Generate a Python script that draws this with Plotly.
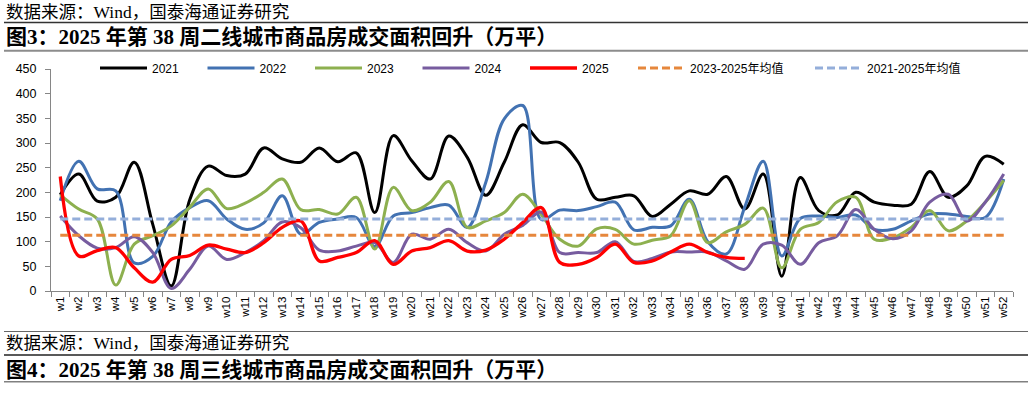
import plotly.graph_objects as go

weeks = [f"w{i}" for i in range(1, 53)]

y2021 = [195, 237, 182, 190, 261, 135, 10, 185, 253, 234, 237, 290, 268, 261, 290, 262, 280, 159, 315, 264,
         227, 314, 271, 194, 261, 337, 301, 301, 261, 186, 190, 193, 151, 176, 203, 196, 232, 166, 237, 30,
         230, 163, 154, 200, 180, 174, 176, 242, 190, 213, 273, 257]
y2022 = [183, 263, 207, 203, 57, 70, 140, 169, 183, 146, 125, 138, 193, 115, 139, 146, 149, 90, 152, 159,
         169, 174, 129, 220, 349, 376, 145, 164, 163, 171, 180, 124, 129, 132, 186, 100, 75, 170, 263, 71,
         147, 152, 149, 154, 125, 125, 142, 156, 156, 151, 149, 227]
y2023 = [195, 166, 146, 12, 95, 112, 132, 170, 207, 167, 178, 200, 227, 165, 165, 156, 190, 85, 210, 163,
         180, 222, 129, 142, 159, 196, 155, 105, 91, 126, 125, 95, 103, 112, 183, 98, 120, 135, 168, 47,
         125, 139, 181, 190, 105, 108, 129, 163, 122, 142, 180, 224]
y2024 = [152, 112, 87, 88, 110, 78, 5, 44, 91, 64, 78, 102, 140, 128, 83, 81, 91, 98, 58, 115,
         105, 125, 98, 81, 115, 133, 160, 78, 78, 78, 100, 60, 66, 79, 79, 79, 61, 44, 95, 93,
         54, 98, 112, 165, 125, 106, 122, 180, 196, 142, 180, 237]
y2025 = [232, 71, 82, 88, 47, 18, 64, 72, 93, 85, 78, 98, 129, 142, 61, 68, 78, 102, 54, 81,
         88, 102, 81, 83, 105, 139, 169, 58, 54, 68, 95, 58, 61, 79, 95, 78, 68, 66]
avg_2023_2025 = [113] * 52
avg_2021_2025 = [146] * 52

W, H = 1032, 397
L, R, T, B = 51, 19, 69, 106
PW, PH = W - L - R, H - T - B


def px(x):
    return (x - L) / PW


def py(y):
    return (H - B - y) / PH


fig = go.Figure()

series = [
    ("2021", y2021, "#000000", 3, "legend"),
    ("2022", y2022, "#4272B2", 3, "legend"),
    ("2023", y2023, "#8DB04F", 3, "legend"),
    ("2024", y2024, "#775C9F", 3, "legend"),
    ("2025", y2025, "#FF0000", 3.3, "legend"),
]
for name, vals, col, w, lg in series:
    fig.add_trace(go.Scatter(x=weeks[:len(vals)], y=vals, name=name, mode="lines",
                             line=dict(color=col, width=w, shape="spline", smoothing=1.0),
                             legend=lg))

fig.add_trace(go.Scatter(x=weeks, y=avg_2023_2025, name="2023-2025年均值", mode="lines",
                         line=dict(color="#E6873C", width=3, dash="8px,4px"), legend="legend2"))
fig.add_trace(go.Scatter(x=weeks, y=avg_2021_2025, name="2021-2025年均值", mode="lines",
                         line=dict(color="#94AEDA", width=3, dash="8px,4px"), legend="legend2"))

sans = "Liberation Sans, Arial, Noto Sans CJK SC"
serif = "Liberation Serif, Noto Sans CJK SC"

fig.update_layout(
    width=W, height=H,
    margin=dict(l=L, r=R, t=T, b=B, pad=0, autoexpand=False),
    paper_bgcolor="white", plot_bgcolor="white",
    font=dict(family=sans, size=12, color="#000000"),
    xaxis=dict(type="category", tickson="boundaries", ticks="outside", ticklen=5,
               tickcolor="#868686", showline=True, linecolor="#868686", linewidth=1,
               showgrid=False, zeroline=False, tickangle=-90, automargin=False,
               tickfont=dict(family=sans, size=11.5, color="#000000"),
               range=[-0.5, 51.5]),
    yaxis=dict(range=[0, 450], dtick=50, ticks="outside", ticklen=5, tickcolor="#868686",
               showline=True, linecolor="#868686", linewidth=1, showgrid=False, zeroline=False,
               automargin=False,
               tickfont=dict(family=sans, size=12.5, color="#000000"), ticklabelstandoff=6),
    legend=dict(orientation="h", x=px(95), xanchor="left", y=py(68), yanchor="middle",
                itemwidth=47, entrywidth=45.5, entrywidthmode="pixels", bgcolor="rgba(0,0,0,0)",
                font=dict(family=sans, size=12, color="#000000"), tracegroupgap=0),
    legend2=dict(orientation="h", x=px(633), xanchor="left", y=py(68), yanchor="middle",
                 itemwidth=47, entrywidth=115, entrywidthmode="pixels", bgcolor="rgba(0,0,0,0)",
                 font=dict(family=sans, size=12, color="#000000"), tracegroupgap=0),
    showlegend=True,
)

rules = [(22.5, "#333333", 1.5), (50.7, "#8c8c8c", 2), (331.5, "#666666", 1.2),
         (355, "#222222", 1.5), (381.7, "#808080", 1.5)]
for yy, col, lw in rules:
    fig.add_shape(type="line", xref="paper", yref="paper", x0=px(4), x1=px(1028), y0=py(yy), y1=py(yy),
                  line=dict(color=col, width=lw))

texts = [
    ("数据来源：Wind，国泰海通证券研究", 12, 17.5, False),
    ("图3：2025 年第 38 周二线城市商品房成交面积回升（万平）", 37, 21, True),
    ("数据来源：Wind，国泰海通证券研究", 343, 17.5, False),
    ("图4：2025 年第 38 周三线城市商品房成交面积回升（万平）", 369.5, 21, True),
]
for txt, yy, fs, bold in texts:
    fig.add_annotation(text=f"<b>{txt}</b>" if bold else txt, xref="paper", yref="paper",
                       x=px(4), y=py(yy), xanchor="left", yanchor="middle", showarrow=False,
                       font=dict(family=serif, size=fs, color="#000000"))

fig.write_html("out.html", config={"displayModeBar": False},
               post_script="document.body.style.margin='0';document.body.style.overflow='hidden';")
